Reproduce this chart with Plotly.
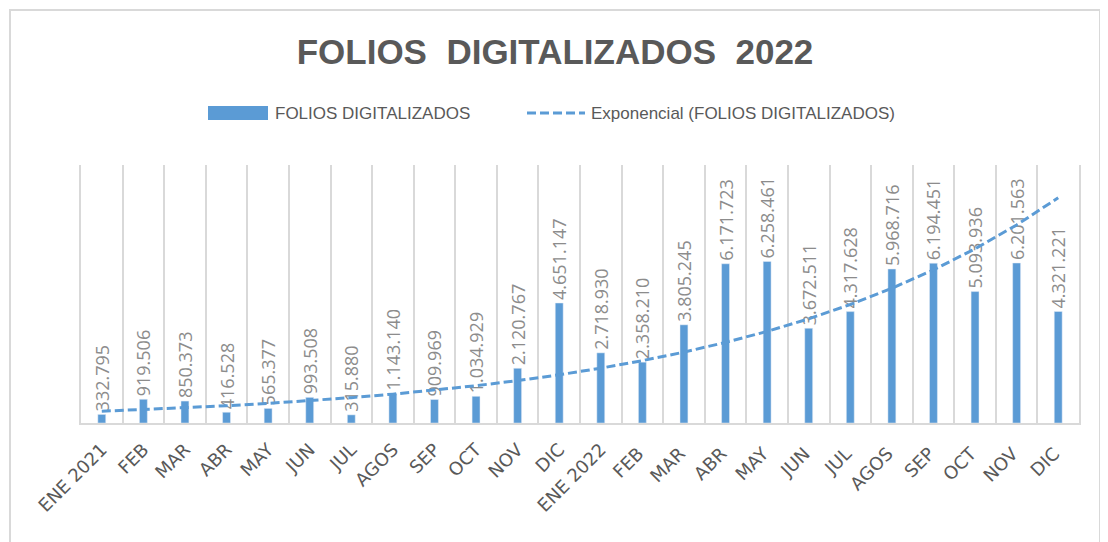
import numpy as np
import plotly.graph_objects as go

categories = ["ENE 2021", "FEB", "MAR", "ABR", "MAY", "JUN", "JUL", "AGOS", "SEP", "OCT", "NOV", "DIC",
              "ENE 2022", "FEB ", "MAR ", "ABR ", "MAY ", "JUN ", "JUL ", "AGOS ", "SEP ", "OCT ", "NOV ", "DIC "]
folios = [332795, 919506, 850373, 416528, 565377, 993508, 315880, 1143140, 909969, 1034929, 2120767, 4651147,
          2718930, 2358210, 3805245, 6171723, 6258461, 3672511, 4317628, 5968716, 6194451, 5093936, 6201563, 4321221]

def fmt(v):
    return f"{v:,}".replace(",", ".")

labels = [fmt(v) for v in folios]

# Exponential trendline (least squares on ln y, as Excel does)
xs = np.arange(1, len(folios) + 1)
b, lna = np.polyfit(xs, np.log(folios), 1)
trend = np.exp(lna + b * xs)

BLUE = "#5B9BD5"
GRID = "#D9D9D9"
OFF = 8  # default page body margin
W, H = 1108 - OFF, 542 - OFF
# plot area in screen pixels: x 81..1079, y 165..423
L, R, T, B = 81 - OFF, W - (1079 - OFF), 165 - OFF, H - (423 - OFF)
PW, PH = W - L - R, H - T - B

def px(x):  # screen x -> paper
    return (x - OFF - L) / PW

def py(y):  # screen y -> paper
    return (H - B - (y - OFF)) / PH

fig = go.Figure()
fig.add_trace(go.Bar(
    x=categories, y=folios, width=0.19, marker_color=BLUE,
    text=labels, textposition="outside", textangle=-90, constraintext="none",
    textfont=dict(family="Open Sans", size=18, color="#8C8C8C"),
    cliponaxis=False, name="FOLIOS DIGITALIZADOS",
))
fig.add_trace(go.Scatter(
    x=categories, y=trend, mode="lines",
    line=dict(color=BLUE, width=3, dash="9px,4px"),
    name="Exponencial (FOLIOS DIGITALIZADOS)",
))

shapes = [
    # outer chart border
    dict(type="rect", xref="paper", yref="paper", x0=px(10), x1=px(1100), y0=py(580), y1=py(10),
         line=dict(color=GRID, width=2), fillcolor="rgba(0,0,0,0)", layer="below"),
    # legend swatches
    dict(type="rect", xref="paper", yref="paper", x0=px(208), x1=px(268), y0=py(120), y1=py(106),
         line=dict(width=0), fillcolor=BLUE),
    dict(type="line", xref="paper", yref="paper", x0=px(527), x1=px(585), y0=py(113), y1=py(113),
         line=dict(color=BLUE, width=3, dash="9px,4px")),
]
legend_font = dict(family="Liberation Sans, Arial, sans-serif", size=17, color="#595959")
annotations = [
    dict(text="FOLIOS DIGITALIZADOS", xref="paper", yref="paper", x=px(273), y=py(113),
         xanchor="left", yanchor="middle", showarrow=False, font=legend_font),
    dict(text="Exponencial (FOLIOS DIGITALIZADOS)", xref="paper", yref="paper", x=px(589), y=py(113),
         xanchor="left", yanchor="middle", showarrow=False, font=legend_font),
]

fig.update_layout(
    width=W, height=H,
    margin=dict(l=L, r=R, t=T, b=B, autoexpand=False),
    paper_bgcolor="white", plot_bgcolor="white",
    showlegend=False,
    title=dict(text="FOLIOS\u00a0\u00a0DIGITALIZADOS\u00a0\u00a02022", x=(555 - OFF) / W, xanchor="center",
               y=1 - (52 - OFF) / H, yanchor="middle", automargin=False,
               font=dict(family="Liberation Sans, Arial, sans-serif", size=35,
                         color="#595959", weight="bold")),
    shapes=shapes, annotations=annotations,
)
fig.update_xaxes(
    type="category", tickson="boundaries", showgrid=True, gridcolor=GRID, gridwidth=2,
    showline=True, linecolor=GRID, linewidth=2, ticks="", tickangle=-45,
    ticklabelstandoff=7, automargin=False,
    tickfont=dict(family="DejaVu Sans", size=18, color="#595959"),
    range=[-0.5, len(categories) - 0.5],
)
fig.update_yaxes(range=[0, 10000000], showticklabels=False, ticks="", showgrid=False, zeroline=False,
                 showline=True, mirror=True, linecolor=GRID, linewidth=2, automargin=False)

fig.write_html("out.html")
